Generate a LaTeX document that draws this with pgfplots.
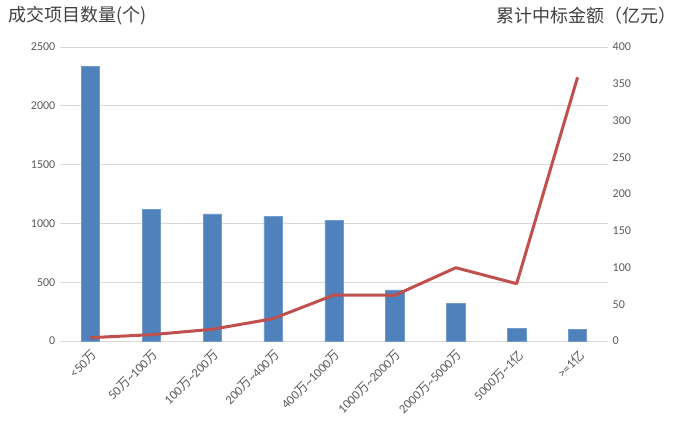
\documentclass[border=0pt]{standalone}
\usepackage{pgfplots}
\pgfplotsset{compat=1.18}
\usepackage{fontspec}
\setmainfont{Carlito}
\newfontfamily\cjk{Noto Sans CJK SC}
\definecolor{barblue}{HTML}{4F81BD}
\definecolor{linered}{HTML}{C0504D}
\definecolor{tickgray}{HTML}{595959}
\definecolor{gridgray}{HTML}{D9D9D9}
\definecolor{titlegray}{HTML}{404040}
\newcommand{\W}{{\cjk 万}}
\newcommand{\Y}{{\cjk 亿}}
\begin{document}
\begin{tikzpicture}[x=0.75pt,y=0.75pt]
\path[use as bounding box] (-60,-84) rectangle (619,341);
\begin{axis}[
  at={(0,0)}, anchor=south west,
  scale only axis, width=411pt, height=220.5pt,
  xmin=-0.5, xmax=8.5, ymin=0, ymax=2500,
  ytick={0,500,...,2500},
  xtick={0,...,8},
  xticklabels={<50\W, 50\W\textasciitilde100\W, 100\W\textasciitilde200\W, 200\W\textasciitilde400\W, 400\W\textasciitilde1000\W, 1000\W\textasciitilde2000\W, 2000\W\textasciitilde5000\W, 5000\W\textasciitilde1\Y, >=1\Y},
  axis line style={draw=none},
  major tick style={draw=none},
  ymajorgrids, grid style={gridgray, line width=0.75pt},
  tick label style={font=\fontsize{9}{10}\selectfont, text=tickgray},
  /pgf/number format/1000 sep={},
  yticklabel style={/pgf/number format/assume math mode=true},
  xticklabel style={rotate=45, anchor=north east, inner sep=1pt, font=\fontsize{9.5}{10}\selectfont},
  ybar, bar width=13.7pt,
]
\addplot[fill=barblue, draw=barblue!80!white, line width=0.4pt] coordinates {
(0,2332) (1,1117) (2,1080) (3,1060) (4,1023) (5,434) (6,320) (7,110) (8,102)};
\end{axis}
\begin{axis}[
  at={(0,0)}, anchor=south west,
  scale only axis, width=411pt, height=220.5pt,
  xmin=-0.5, xmax=8.5, ymin=0, ymax=400,
  ytick={0,50,...,400},
  axis y line*=right, axis x line=none,
  axis line style={draw=none},
  major tick style={draw=none},
  tick label style={font=\fontsize{9}{10}\selectfont, text=tickgray},
  yticklabel style={/pgf/number format/assume math mode=true, anchor=west},
]
\addplot[linered, line width=2.25pt, line join=round, no marks] coordinates {
(0,4.5) (1,8.6) (2,15.9) (3,30.4) (4,62.6) (5,62.2) (6,99.7) (7,78) (8,358.8)};
\end{axis}
\node[anchor=west, inner sep=0pt, text=titlegray, font=\cjk\fontsize{13.5}{15}\selectfont] at (-52,325) {成交项目数量(个)};
\node[anchor=east, inner sep=0pt, text=titlegray, font=\cjk\fontsize{13.5}{15}\selectfont] at (617,325) {累计中标金额（亿元）};
\end{tikzpicture}
\end{document}
